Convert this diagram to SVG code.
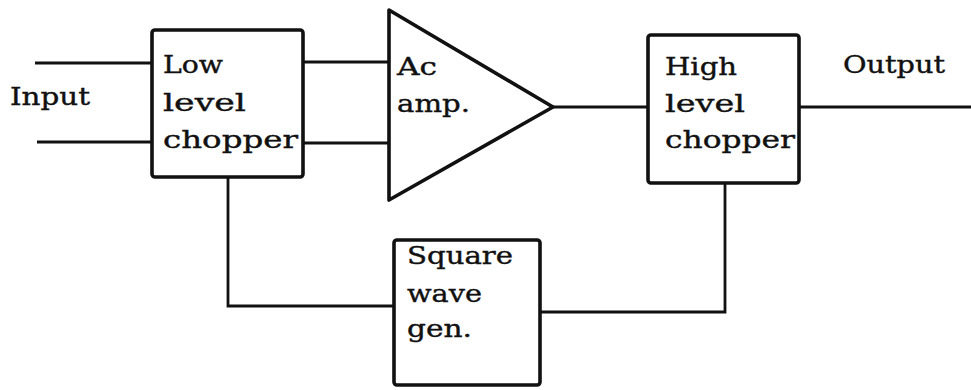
<svg xmlns="http://www.w3.org/2000/svg" width="971" height="390" viewBox="0 0 971 390">
<style>
.box{fill:#fff;stroke:#111;stroke-width:3.6;stroke-linejoin:round}
.wire{fill:none;stroke:#111;stroke-width:2.8;stroke-linejoin:miter}
.t{font-family:"DejaVu Serif","Liberation Serif",serif;font-size:25px;fill:#111;stroke:#111;stroke-width:0.4}
</style>
<rect width="971" height="390" fill="#fff"/>
<g id="connectors">
<path class="wire" d="M35 63H152"/>
<path class="wire" d="M37 142H152"/>
<path class="wire" d="M303 62H389"/>
<path class="wire" d="M303 143H389"/>
<path class="wire" d="M553 107H648"/>
<path class="wire" d="M799 107H971"/>
<path class="wire" d="M228 177V306H394"/>
<path class="wire" d="M540 312H725V183"/>
</g>
<g id="input-label"><text class="t" x="10" y="105" textLength="80" lengthAdjust="spacingAndGlyphs">Input</text></g>
<g id="output-label"><text class="t" x="843" y="73" textLength="102" lengthAdjust="spacingAndGlyphs">Output</text></g>
<g id="low-level-chopper">
<rect class="box" x="152" y="30" width="151" height="147" rx="3"/>
<text class="t" x="163" y="73" textLength="60" lengthAdjust="spacingAndGlyphs">Low</text>
<text class="t" x="163" y="111" textLength="83" lengthAdjust="spacingAndGlyphs">level</text>
<text class="t" x="163" y="148" textLength="135" lengthAdjust="spacingAndGlyphs">chopper</text>
</g>
<g id="ac-amp">
<path class="box" d="M389 10L553 107L389 200Z"/>
<text class="t" x="397" y="75" textLength="40" lengthAdjust="spacingAndGlyphs">Ac</text>
<text class="t" x="397" y="112" textLength="73" lengthAdjust="spacingAndGlyphs">amp.</text>
</g>
<g id="high-level-chopper">
<rect class="box" x="648" y="35" width="151" height="148" rx="3"/>
<text class="t" x="665" y="75" textLength="72" lengthAdjust="spacingAndGlyphs">High</text>
<text class="t" x="665" y="112" textLength="80" lengthAdjust="spacingAndGlyphs">level</text>
<text class="t" x="665" y="148" textLength="130" lengthAdjust="spacingAndGlyphs">chopper</text>
</g>
<g id="square-wave-gen">
<rect class="box" x="394" y="240" width="146" height="145" rx="3"/>
<text class="t" x="407" y="264" textLength="106" lengthAdjust="spacingAndGlyphs">Square</text>
<text class="t" x="407" y="302" textLength="75" lengthAdjust="spacingAndGlyphs">wave</text>
<text class="t" x="407" y="337" textLength="65" lengthAdjust="spacingAndGlyphs">gen.</text>
</g>
</svg>
